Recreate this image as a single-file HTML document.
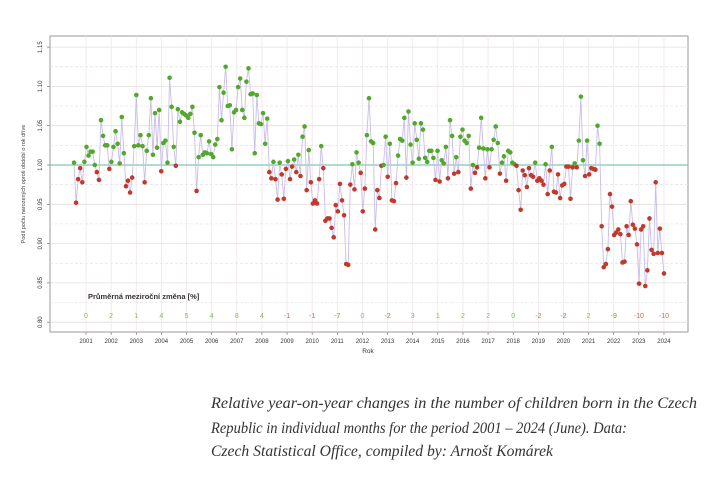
<!DOCTYPE html>
<html><head><meta charset="utf-8"><style>
html,body{margin:0;padding:0;background:#fff;width:722px;height:484px;overflow:hidden}
svg{display:block}
</style></head><body>
<svg id="s" width="722" height="484" xmlns="http://www.w3.org/2000/svg" font-family="Liberation Sans, sans-serif">
<rect x="50" y="36" width="638" height="296" fill="#fff" stroke="#999" stroke-width="1"/>
<g id="grid"></g>
<line x1="50" x2="688" y1="165" y2="165" stroke="#7fc8b8" stroke-width="1.2"/>
<g id="data"></g>
<g id="ax" font-size="6" fill="#333"></g>
<text x="88" y="299" font-size="7.5" font-weight="bold" fill="#333">Průměrná meziroční změna [%]</text>
<text x="368" y="353" font-size="6.5" fill="#333" text-anchor="middle">Rok</text>
<text transform="translate(25,184) rotate(-90)" font-size="5.5" fill="#444" text-anchor="middle">Podíl počtu narozených oproti období o rok dříve</text>
<g font-family="Liberation Serif, serif" font-style="italic" font-size="15.5" fill="#333">
<text x="211" y="408" textLength="486" lengthAdjust="spacingAndGlyphs">Relative year-on-year changes in the number of children born in the Czech</text>
<text x="211" y="433" textLength="416" lengthAdjust="spacingAndGlyphs">Republic in individual months for the period 2001 – 2024 (June). Data:</text>
<text x="211" y="456" textLength="342" lengthAdjust="spacingAndGlyphs">Czech Statistical Office, compiled by: Arnošt Komárek</text>
</g>
</svg>
<script>
var NS="http://www.w3.org/2000/svg";
function el(p,t,a,txt){var e=document.createElementNS(NS,t);for(var k in a)e.setAttribute(k,a[k]);if(txt!=null)e.textContent=txt;p.appendChild(e);return e;}
var g=document.getElementById('grid'),d=document.getElementById('data'),ax=document.getElementById('ax');
function Y(v){return 165-(v-1)/0.05*39.3;}
function X(y){return 86+(y-2001)*25.13;}
for(var i=0;i<=7;i++){var v=0.80+i*0.05,y=Y(v);
 el(g,'line',{x1:50,x2:688,y1:y,y2:y,stroke:'#e4dde0','stroke-width':0.8});
 if(i<7){el(g,'line',{x1:50,x2:688,y1:Y(v+0.025),y2:Y(v+0.025),stroke:'#e6e0e3','stroke-width':0.7,'stroke-dasharray':'3,2'});}
 var t=el(ax,'text',{transform:'translate(42,'+y+') rotate(-90)','text-anchor':'middle'},v.toFixed(2));
 el(ax,'line',{x1:47,x2:50,y1:y,y2:y,stroke:'#666','stroke-width':0.6});}
var avg=[0,2,1,4,5,4,8,4,-1,-1,-7,0,-2,3,1,2,2,0,-2,-2,2,-9,-10,-10];
for(var k=0;k<24;k++){var x=X(2001+k);
 el(g,'line',{x1:x,x2:x,y1:36,y2:332,stroke:'#f0e4ea','stroke-width':0.8});
 el(ax,'line',{x1:x,x2:x,y1:332,y2:335,stroke:'#666','stroke-width':0.6});
 el(ax,'text',{x:x,y:343,'text-anchor':'middle'},2001+k);
 var a=avg[k];el(d,'text',{x:x,y:318,'text-anchor':'middle','font-size':7,fill:a>0||(a==0&&k!=11)?'#7cc242':(a==0?'#7cc242':'#d06a4a')},a);}
var vals=[1.003,0.952,0.982,0.996,0.978,1.004,1.023,1.012,1.017,1.017,1.000,0.991,
0.981,1.057,1.037,1.025,1.025,0.995,1.004,1.023,1.043,1.027,1.002,1.061,
1.015,0.973,0.980,0.965,0.984,1.024,1.089,1.025,1.038,1.024,0.978,1.018,
1.038,1.085,1.013,1.066,1.022,1.070,0.992,1.028,1.031,1.003,1.111,1.074,
1.023,0.999,1.071,1.055,1.067,1.065,1.063,1.060,1.065,1.074,1.041,0.967,
1.010,1.038,1.013,1.016,1.015,1.030,1.014,1.010,1.026,1.033,1.099,1.057,
1.092,1.125,1.075,1.076,1.020,1.067,1.070,1.099,1.110,1.070,1.060,1.106,
1.123,1.090,1.091,1.015,1.089,1.053,1.052,1.066,1.027,1.059,0.991,0.983,
1.004,0.982,0.956,1.003,0.988,0.957,0.995,1.005,0.982,0.998,1.007,0.991,
1.013,0.986,1.036,1.049,0.968,1.019,0.978,0.951,0.955,0.951,0.982,1.024,
0.996,0.929,0.932,0.932,0.920,0.908,0.949,0.941,0.976,0.955,0.936,0.874,
0.873,0.975,1.001,0.969,1.016,1.003,0.990,0.941,0.970,1.038,1.085,1.030,
1.028,0.918,0.968,0.958,0.999,1.000,1.036,0.985,1.027,0.955,0.954,0.977,
1.012,1.033,1.031,1.060,0.984,1.068,1.026,1.003,1.053,1.032,1.008,1.053,
1.045,1.009,1.004,1.018,1.018,1.009,0.981,1.018,0.979,1.006,1.002,1.023,
0.983,1.057,1.037,0.989,1.010,0.991,1.036,1.045,1.031,1.028,1.037,0.970,
1.000,0.990,0.997,1.022,1.060,1.021,0.983,1.020,0.997,1.020,1.032,1.049,
1.028,0.989,1.003,1.011,0.980,1.018,1.016,1.003,1.001,0.999,0.968,0.943,
0.993,0.987,0.972,0.996,0.987,0.985,1.003,0.980,0.983,0.980,0.975,1.001,
0.963,0.993,1.023,0.966,0.965,0.988,0.958,0.974,0.976,0.998,0.998,0.957,
0.997,1.002,0.997,1.031,1.087,1.006,0.986,1.031,0.988,0.996,0.995,0.994,
1.050,1.027,0.922,0.870,0.874,0.893,0.963,0.947,0.911,0.914,0.918,0.912,
0.876,0.877,0.922,0.911,0.954,0.924,0.919,0.899,0.849,0.918,0.922,0.846,
0.866,0.932,0.892,0.887,0.978,0.888,0.919,0.888,0.862];
var n=vals.length,pts=[];
for(var i=0;i<n;i++){pts.push([74+i*(664-74)/(n-1),Y(vals[i])]);}
el(d,'polyline',{points:pts.map(function(p){return p[0].toFixed(1)+','+p[1].toFixed(1)}).join(' '),fill:'none',stroke:'#c9bde8','stroke-width':0.9});
for(var i=0;i<n;i++){el(d,'circle',{cx:pts[i][0],cy:pts[i][1],r:2.3,fill:vals[i]>=1?'#52a82a':'#c0392b'});}
</script>
</body></html>
